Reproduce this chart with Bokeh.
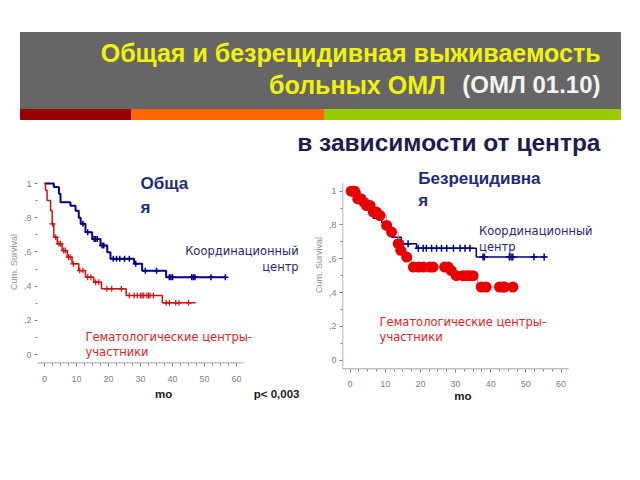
import numpy as np
from bokeh.plotting import figure
from bokeh.layouts import column, row
from bokeh.models import Range1d, FixedTicker, Label, LinearAxis
from bokeh.core.properties import value
from bokeh.embed import file_html
from bokeh.resources import INLINE

# ---------------- data ----------------
x_ticks = [0, 10, 20, 30, 40, 50, 60]
x_minor = [2.5, 5, 7.5, 12.5, 15, 17.5, 22.5, 25, 27.5, 32.5, 35, 37.5,
           42.5, 45, 47.5, 52.5, 55, 57.5]
y_ticks = [0, 0.2, 0.4, 0.6, 0.8, 1.0]
y_tick_labels = ["0", ",2", ",4", ",6", ",8", "1"]
y_minor = [0.1, 0.3, 0.5, 0.7, 0.9]
x_title = "mo"
p_value_text = "p< 0,003"

# Overall survival - coordinating centre
os_coord_t = [0, 2.9, 4.5, 5.0, 8.1, 9.7, 10.7, 11.3, 12.8, 14.9, 17.5, 19.6, 20.6, 28.0, 30.5, 38.0]
os_coord_s = [1.0, 0.98, 0.94, 0.89, 0.87, 0.84, 0.80, 0.765, 0.715, 0.676, 0.637, 0.598, 0.56, 0.53, 0.49, 0.452]
os_coord_end = 56.6
os_coord_cens = [12.0, 13.5, 15.5, 16.0, 16.5, 18.0, 18.5, 21.5, 22.5, 23.5, 25.0, 26.5,
                 28.5, 31.5, 35.0, 39.0, 39.5, 40.0, 46.0, 46.5, 47.0, 52.0, 56.5]

# Overall survival - participating haematology centres
os_part_t = [0, 0.3, 0.8, 1.9, 2.4, 2.9, 4.0, 5.5, 7.1, 8.6, 10.7, 12.8, 15.4, 17.8, 25.5, 36.8]
os_part_s = [1.0, 0.96, 0.90, 0.842, 0.764, 0.686, 0.647, 0.608, 0.569, 0.53, 0.491, 0.452, 0.423, 0.384, 0.345, 0.302]
os_part_end = 47.2
os_part_cens = [2.5, 3.5, 4.5, 5.0, 6.0, 6.5, 7.5, 8.0, 9.0, 11.0, 12.0, 13.5, 14.5, 16.0, 17.0,
                19.5, 21.0, 24.0, 26.5, 28.0, 29.0, 30.0, 30.5, 31.0, 32.0, 32.5, 33.0, 34.0,
                38.0, 39.0, 41.0, 42.0, 45.0]

# Relapse-free survival - coordinating centre
rfs_coord_t = [0, 2.8, 4.2, 5.5, 6.6, 9.0, 10.4, 11.8, 14.6, 18.9, 35.9]
rfs_coord_s = [1.0, 0.975, 0.945, 0.90, 0.84, 0.815, 0.768, 0.728, 0.689, 0.662, 0.610]
rfs_coord_end = 55.7
rfs_coord_cens = [15.0, 16.5, 19.4, 20.8, 21.7, 23.2, 24.6, 26.0, 27.5, 29.4, 31.3, 32.7, 34.1,
                  37.8, 38.2, 45.3, 45.8, 46.3, 52.3, 55.2]

# Relapse-free survival - participating haematology centres
rfs_part_t = [0, 1.9, 3.8, 4.5, 6.1, 7.6, 10.4, 11.8, 13.7, 14.2, 16.1, 17.5, 28.8, 30.0, 36.2]
rfs_part_s = [1.0, 0.955, 0.935, 0.915, 0.876, 0.856, 0.797, 0.758, 0.689, 0.65, 0.61, 0.551, 0.53, 0.50, 0.433]
rfs_part_end = 46.7
rfs_part_cens = [0.3, 0.8, 1.3, 2.2, 3.0, 3.9, 4.7, 5.7, 6.6, 7.5, 8.5, 10.4, 11.8, 13.7, 14.4, 16.1,
                 18.0, 19.4, 20.8, 22.7, 23.6, 26.9, 27.9, 28.8, 30.2, 32.1, 33.1, 34.0, 35.0,
                 37.3, 38.7, 42.5, 43.5, 43.9, 46.3]

NAVY = "#1f2a7a"
RED = "#e02424"
GRAY = "#808080"


def km_line(t, s, end):
    return list(t) + [end], list(s) + [s[-1]]


def km_at(t, s, c):
    idx = np.searchsorted(np.asarray(t), np.asarray(c), side="right") - 1
    return list(np.asarray(s)[idx])


def style_axes(p, x_std, y_std):
    p.xaxis.ticker = FixedTicker(ticks=x_ticks, minor_ticks=x_minor)
    p.yaxis.ticker = FixedTicker(ticks=y_ticks, minor_ticks=y_minor)
    p.yaxis.major_label_overrides = {float(k): v for k, v in zip(y_ticks, y_tick_labels)}
    for ax in (p.xaxis[0], p.yaxis[0]):
        ax.major_label_text_font = "Liberation Sans"
        ax.major_label_text_font_size = "9px"
        ax.major_label_text_color = GRAY
        ax.major_tick_line_color = GRAY
        ax.minor_tick_line_color = GRAY
        ax.major_tick_in = 0
        ax.minor_tick_in = 0
        ax.major_tick_out = 3
        ax.minor_tick_out = 2
        ax.axis_line_color = None
    p.xaxis.major_label_standoff = x_std
    p.yaxis.major_label_standoff = y_std
    p.yaxis.axis_label = "Cum. Survival"
    p.yaxis.axis_label_text_font = "Liberation Sans"
    p.yaxis.axis_label_text_font_style = "normal"
    p.yaxis.axis_label_text_font_size = "9px"
    p.yaxis.axis_label_text_color = "#909090"
    p.yaxis.axis_label_standoff = 2
    p.xgrid.visible = False
    p.ygrid.visible = False
    p.outline_line_color = None


def add_title_axis(p, ticks, labels, std):
    ax = LinearAxis(ticker=FixedTicker(ticks=ticks, minor_ticks=[]),
                    major_label_overrides={float(k): v for k, v in zip(ticks, labels)},
                    axis_line_color=None, major_tick_line_color=None, minor_tick_line_color=None,
                    major_tick_out=0, major_tick_in=0, major_label_standoff=std,
                    major_label_text_font="Liberation Sans", major_label_text_font_style="bold",
                    major_label_text_font_size="11.5px", major_label_text_color="#1a1a1a")
    p.add_layout(ax, "below")


def add_label(p, x, y, text, color, size, bold=False, align="left", font="DejaVu Sans"):
    p.add_layout(Label(x=x, y=y, text=text, text_color=color, text_font=font,
                       text_font_size=size, text_font_style="bold" if bold else "normal",
                       text_align=align, text_baseline="middle"))


# ---------------- banner ----------------
banner = figure(width=640, height=160, x_range=Range1d(0, 640), y_range=Range1d(160, 0),
                output_backend="svg", toolbar_location=None, min_border=0)
banner.axis.visible = False
banner.grid.visible = False
banner.outline_line_color = None
banner.quad(left=[20], right=[620], top=[32], bottom=[109], color="#666666")
banner.quad(left=[20, 131, 324], right=[131, 324, 620], top=[109, 109, 109], bottom=[119, 119, 119],
            color=["#990000", "#ff6600", "#99cc00"])
title_font = value("Liberation Sans")
banner.text(x=[600], y=[52], text=["Общая и безрецидивная выживаемость"], text_font=title_font,
            text_font_size="25px", text_font_style="bold", text_color="#f2f20a",
            text_align="right", text_baseline="middle")
banner.text(x=[445], y=[84], text=["больных ОМЛ"], text_font=title_font,
            text_font_size="25px", text_font_style="bold", text_color="#f2f20a",
            text_align="right", text_baseline="middle")
banner.text(x=[600], y=[84], text=["(ОМЛ 01.10)"], text_font=title_font,
            text_font_size="24px", text_font_style="bold", text_color="#f4f4f4",
            text_align="right", text_baseline="middle")
banner.text(x=[600], y=[142], text=["в зависимости от центра"], text_font=title_font,
            text_font_size="24.5px", text_font_style="bold", text_color="#1c1c50",
            text_align="right", text_baseline="middle")

# ---------------- left: overall survival ----------------
left = figure(width=310, height=314, output_backend="svg", toolbar_location=None,
              x_range=Range1d(-2.19, 83.1), y_range=Range1d(-0.0526, 1.1345),
              min_border_left=37, min_border_right=0, min_border_top=0, min_border_bottom=111)
style_axes(left, x_std=9, y_std=3)
add_title_axis(left, [37.2, 72.5], [x_title, p_value_text], 3)
left.segment(x0=[-2.19], y0=[-0.05], x1=[62.2], y1=[-0.05], line_color=GRAY, line_width=1)

xb, yb = km_line(os_coord_t, os_coord_s, os_coord_end)
left.step(xb, yb, mode="after", line_color="#000080", line_width=2)
left.scatter(os_coord_cens, km_at(os_coord_t, os_coord_s, os_coord_cens), marker="cross",
             size=6, line_color="#000080", line_width=1.5)
xr, yr = km_line(os_part_t, os_part_s, os_part_end)
left.step(xr, yr, mode="after", line_color="#cc1111", line_width=1.5)
left.scatter(os_part_cens, km_at(os_part_t, os_part_s, os_part_cens), marker="cross",
             size=6, line_color="#cc1111", line_width=1.2)

add_label(left, 30, 1.0, "Обща", NAVY, "17px", bold=True, font="Liberation Sans")
add_label(left, 30, 0.86, "я", NAVY, "17px", bold=True, font="Liberation Sans")
add_label(left, 79.4, 0.608, "Координационный", NAVY, "11.5px", align="right")
add_label(left, 79.4, 0.509, "центр", NAVY, "11.5px", align="right")
add_label(left, 12.8, 0.105, "Гематологические центры-", RED, "11.5px")
add_label(left, 12.8, 0.012, "участники", RED, "11.5px")

# ---------------- right: relapse-free survival ----------------
right = figure(width=330, height=320, output_backend="svg", toolbar_location=None,
               x_range=Range1d(-2.15, 82.6), y_range=Range1d(-0.0549, 1.1813),
               min_border_left=31, min_border_right=0, min_border_top=0, min_border_bottom=111)
style_axes(right, x_std=8, y_std=3)
add_title_axis(right, [32.1], [x_title], 0)
right.segment(x0=[-2.15], y0=[-0.052], x1=[62.2], y1=[-0.052], line_color=GRAY, line_width=1)
right.segment(x0=[-2.1], y0=[-0.0549], x1=[-2.1], y1=[1.05], line_color=GRAY, line_width=1)

xb, yb = km_line(rfs_coord_t, rfs_coord_s, rfs_coord_end)
right.step(xb, yb, mode="after", line_color="#000080", line_width=1.5)
right.scatter(rfs_coord_cens, km_at(rfs_coord_t, rfs_coord_s, rfs_coord_cens), marker="cross",
              size=7, line_color="#000080", line_width=1.5)
xr, yr = km_line(rfs_part_t, rfs_part_s, rfs_part_end)
right.step(xr, yr, mode="after", line_color="#b89a9a", line_width=1)
right.scatter(rfs_part_cens, km_at(rfs_part_t, rfs_part_s, rfs_part_cens), marker="circle",
              size=11, fill_color="#e80000", line_color=None)

add_label(right, 19.4, 1.075, "Безрецидивна", NAVY, "17px", bold=True, font="Liberation Sans")
add_label(right, 19.4, 0.945, "я", NAVY, "17px", bold=True, font="Liberation Sans")
add_label(right, 36.7, 0.764, "Координационный", NAVY, "11.5px")
add_label(right, 36.7, 0.669, "центр", NAVY, "11.5px")
add_label(right, 8.4, 0.226, "Гематологические  центры-", RED, "11.5px")
add_label(right, 8.4, 0.138, "участники", RED, "11.5px")

layout = column(banner, row(left, right, spacing=0), spacing=0)
open("out.html", "w").write(file_html(layout, INLINE))
